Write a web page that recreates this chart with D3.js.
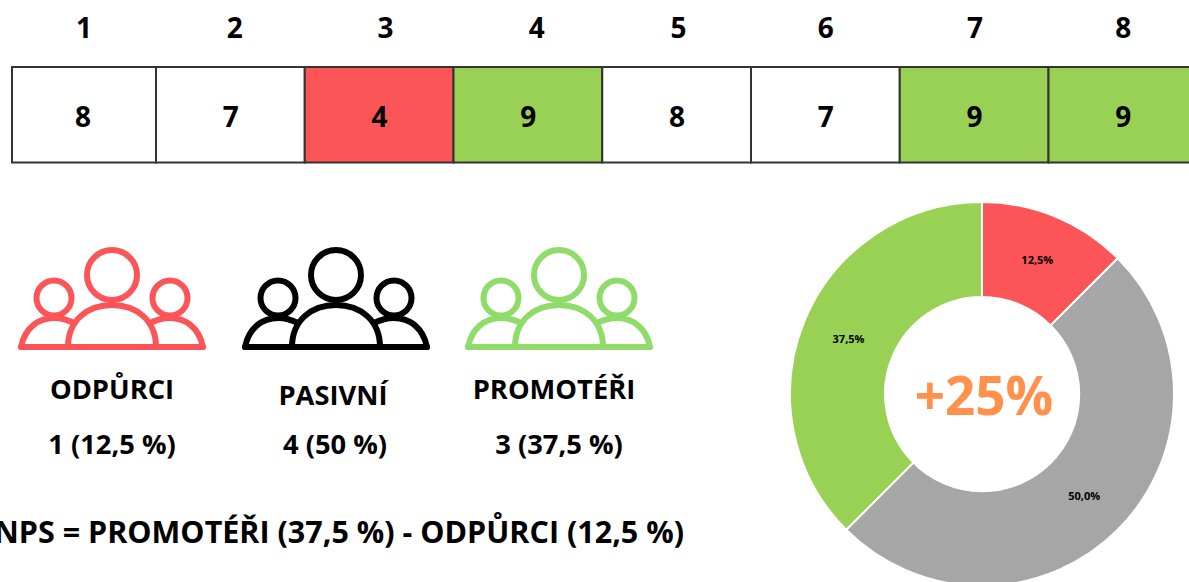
<!DOCTYPE html>
<html>
<head>
<meta charset="utf-8">
<script src="https://cdn.jsdelivr.net/npm/d3@7"></script>
<style>
  html, body { margin: 0; padding: 0; background: #fff; overflow: hidden; }
  text { font-family: "Open Sans", sans-serif; font-weight: 700; fill: #000; }
</style>
</head>
<body>
<div id="chart"></div>
<script>
// answers of the respondents
var respondents = ["1", "2", "3", "4", "5", "6", "7", "8"];
var scores = [8, 7, 4, 9, 8, 7, 9, 9];

// groups
var groupNames = ["ODPŮRCI", "PASIVNÍ", "PROMOTÉŘI"];
var groupCounts = ["1 (12,5 %)", "4 (50 %)", "3 (37,5 %)"];
var groupShares = [12.5, 50, 37.5];
var shareLabels = ["12,5%", "50,0%", "37,5%"];
var npsResult = "+25%";
var npsFormula = "NPS = PROMOTÉŘI (37,5 %) - ODPŮRCI (12,5 %)";

var width = 1189, height = 582;
var red = "#fb5557", green = "#99d155", grey = "#a6a6a6", orange = "#ff914d";
var iconGreen = "#8fdc6a";

var svg = d3.select("#chart")
    .append("svg")
    .attr("width", width)
    .attr("height", height);

// score colour
function scoreColor(d) {
    if (d <= 6) return red;
    if (d >= 9) return green;
    return "#fff";
}

// the first cell is a bit narrower than the others
var x = d3.scaleLinear()
    .domain([0, 1, 9])
    .range([12, 156, 1346]);

svg.selectAll(".cell")
    .data(scores)
    .enter().append("rect")
    .attr("class", "cell")
    .attr("x", function (d, i) { return x(i); })
    .attr("y", 67)
    .attr("width", function (d, i) { return x(i + 1) - x(i); })
    .attr("height", 95.5)
    .attr("fill", scoreColor)
    .attr("stroke", "#333")
    .attr("stroke-width", 2);

svg.selectAll(".score")
    .data(scores)
    .enter().append("text")
    .attr("class", "score")
    .attr("x", function (d, i) { return (x(i) + x(i + 1)) / 2 + (i == 0 ? -1 : 0.5); })
    .attr("y", 127)
    .attr("text-anchor", "middle")
    .attr("font-size", 28)
    .text(function (d) { return d; });

// the header labels are not exactly above their cells
var headerShift = [0, 4.5, 6.5, 9, 2, 0.5, 1, 0.5];
svg.selectAll(".head")
    .data(respondents)
    .enter().append("text")
    .attr("class", "head")
    .attr("x", function (d, i) { return (x(i) + x(i + 1)) / 2 + headerShift[i]; })
    .attr("y", 38)
    .attr("text-anchor", "middle")
    .attr("font-size", 28)
    .text(function (d) { return d; });

// people icon, drawn around the centre of the big head
function drawIcon(cx, color) {
    var g = svg.append("g")
        .attr("transform", "translate(" + cx + ",275)")
        .attr("fill", "none")
        .attr("stroke", color)
        .attr("stroke-width", 6)
        .attr("stroke-linejoin", "round")
        .attr("stroke-linecap", "round");
    g.append("circle").attr("r", 25);
    g.append("circle").attr("cx", -58).attr("cy", 23).attr("r", 17.5);
    g.append("circle").attr("cx", 58).attr("cy", 23).attr("r", 17.5);
    g.append("path").attr("d", "M-91,72H91");
    g.append("path").attr("d", "M-44,72C-44,45 -24,30 0,30C24,30 44,45 44,72");
    g.append("path").attr("d", "M-91,72C-87,53 -74,43 -58,43C-50,43 -44,45 -38,48");
    g.append("path").attr("d", "M91,72C87,53 74,43 58,43C50,43 44,45 38,48");
}
drawIcon(112, red);
drawIcon(336, "#000");
drawIcon(559, iconGreen);

var nameX = [112, 333, 554], nameY = [399, 405, 399];
var countX = [112, 335, 559];

svg.selectAll(".name")
    .data(groupNames)
    .enter().append("text")
    .attr("class", "name")
    .attr("x", function (d, i) { return nameX[i]; })
    .attr("y", function (d, i) { return nameY[i]; })
    .attr("text-anchor", "middle")
    .attr("font-size", 27.3)
    .text(function (d) { return d; });

svg.selectAll(".count")
    .data(groupCounts)
    .enter().append("text")
    .attr("class", "count")
    .attr("x", function (d, i) { return countX[i]; })
    .attr("y", 454)
    .attr("text-anchor", "middle")
    .attr("font-size", 27.3)
    .text(function (d) { return d; });

// runs off the left edge in the original too
svg.append("text")
    .attr("x", 339)
    .attr("y", 542.5)
    .attr("text-anchor", "middle")
    .attr("font-size", 30.5)
    .text(npsFormula);

// donut
var pie = d3.pie().sort(null);
var arc = d3.arc().innerRadius(97).outerRadius(192);
var sliceColors = [red, grey, green];

var donut = svg.append("g")
    .attr("transform", "translate(982,394)");

donut.selectAll("path")
    .data(pie(groupShares))
    .enter().append("path")
    .attr("d", arc)
    .attr("fill", function (d, i) { return sliceColors[i]; })
    .attr("stroke", "#fff")
    .attr("stroke-width", 2);

donut.selectAll(".share")
    .data(pie(groupShares))
    .enter().append("text")
    .attr("class", "share")
    .attr("transform", function (d) { return "translate(" + arc.centroid(d) + ")"; })
    .attr("text-anchor", "middle")
    .attr("dy", "0.35em")
    .attr("font-size", 11)
    .text(function (d, i) { return shareLabels[i]; });

donut.append("text")
    .attr("x", 2)
    .attr("y", 21)
    .attr("text-anchor", "middle")
    .attr("font-size", 53)
    .style("fill", orange)
    .text(npsResult);
</script>
</body>
</html>
